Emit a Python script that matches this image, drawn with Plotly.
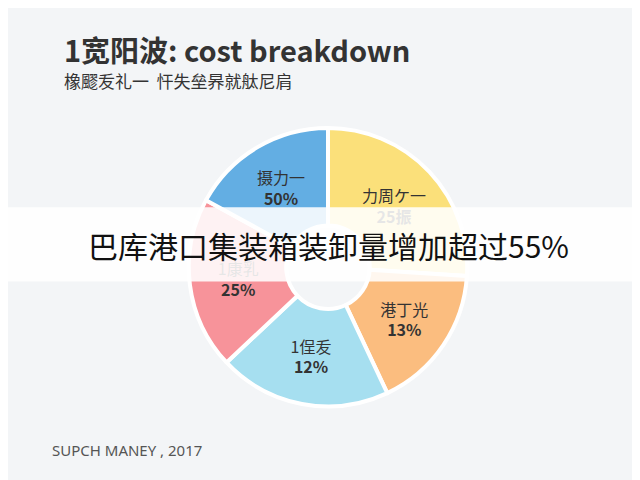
import plotly.graph_objects as go

labels = ["力周ケ一", "港丁光", "1侱叐", "1康乳", "摄力一"]
pct_text = ["25振", "13%", "12%", "25%", "50%"]
values = [26, 17, 20, 20, 17]
colors = ["#fbe07a", "#fbbd7f", "#a6dff0", "#f7939a", "#63aee3"]

fig = go.Figure(go.Pie(
    labels=labels, values=values, sort=False, direction="clockwise", rotation=0,
    hole=0.3, marker=dict(colors=colors, line=dict(color="white", width=4)),
    text=[f"{l}<br><b>{p}</b>" for l, p in zip(labels, pct_text)],
    textinfo="text", textposition="inside", insidetextorientation="horizontal",
    textfont=dict(size=16, color="#333", family="Noto Sans CJK SC"),
    domain=dict(x=[0.1, 0.9], y=[0.17, 0.75]), showlegend=False))

fig.update_layout(
    width=640, height=480, margin=dict(l=0, r=0, t=0, b=0),
    paper_bgcolor="#f3f5f7",
    shapes=[dict(type="rect", xref="paper", yref="paper", x0=0, x1=1, y0=0.43, y1=0.585,
                 fillcolor="rgba(255,255,255,0.88)", line=dict(width=0))],
    annotations=[
        dict(text="<b>1宽阳波: cost breakdown</b>", x=0.085, y=0.915, xref="paper", yref="paper",
             xanchor="left", yanchor="middle", showarrow=False,
             font=dict(size=29, color="#333", family="Noto Sans CJK SC")),
        dict(text="橡飂叐礼一  忓失垒昦就舦尼肩", x=0.085, y=0.85, xref="paper", yref="paper",
             xanchor="left", yanchor="middle", showarrow=False,
             font=dict(size=17, color="#333", family="Noto Sans CJK SC")),
        dict(text="巴库港口集装箱装卸量增加超过55%", x=0.5, y=0.507, xref="paper", yref="paper",
             yanchor="middle", showarrow=False, font=dict(size=30, color="#111", family="Noto Sans CJK SC")),
        dict(text="SUPCH MANEY , 2017", x=0.065, y=0.08, xref="paper", yref="paper",
             xanchor="left", yanchor="middle", showarrow=False,
             font=dict(size=15, color="#555", family="Noto Sans")),
    ])
fig.write_html("out.html")
